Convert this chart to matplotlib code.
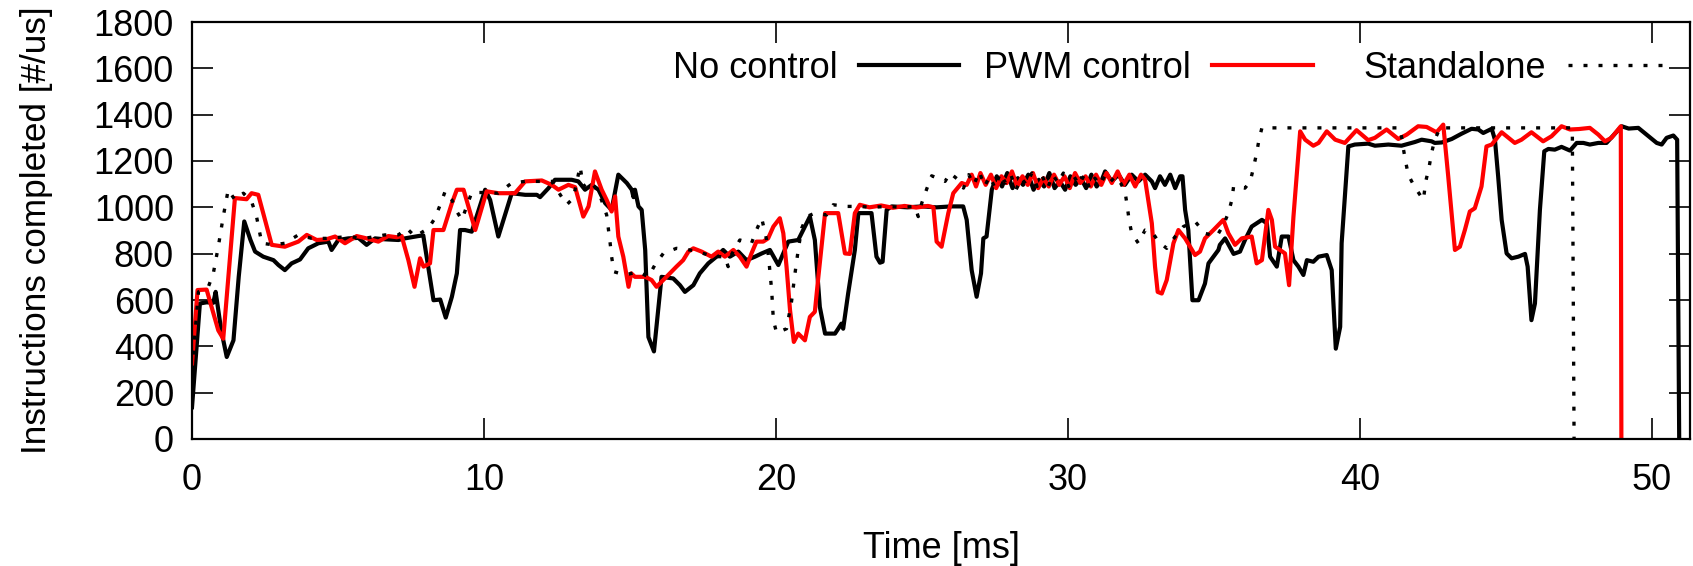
import matplotlib
matplotlib.use("Agg")
import matplotlib.pyplot as plt
import numpy as np

plt.rcParams['font.family'] = ['Liberation Sans', 'DejaVu Sans']

# No control (black solid)
noctl_t = [0.0, 0.27, 0.5, 0.73, 0.81, 1.0, 1.19, 1.42, 1.6, 1.79, 2.0, 2.16, 2.44, 2.79, 2.96, 3.18,
           3.41, 3.7, 3.98, 4.33, 4.67, 4.78, 5.01, 5.35, 5.7, 5.98, 6.27, 6.61, 7.07, 7.29, 7.75, 7.92,
           8.27, 8.5, 8.69, 8.9, 9.07, 9.18, 9.35, 9.58, 10.04, 10.21, 10.49, 10.95, 11.41, 11.81, 11.92,
           12.21, 12.43, 13.0, 13.23, 13.46, 13.69, 13.92, 14.15, 14.37, 14.6, 14.89, 15.06, 15.12, 15.17,
           15.29, 15.4, 15.52, 15.63, 15.82, 16.08, 16.48, 16.71, 16.88, 17.17, 17.39, 17.68, 17.96, 18.19,
           18.42, 18.71, 18.99, 19.28, 19.51, 19.79, 20.08, 20.42, 20.76, 21.16, 21.33, 21.5, 21.68, 22.02,
           22.13, 22.24, 22.3, 22.47, 22.7, 22.82, 23.27, 23.44, 23.56, 23.65, 23.79, 23.96, 24.5, 25.0,
           25.5, 26.0, 26.41, 26.53, 26.7, 26.87, 27.02, 27.1, 27.21, 27.39, 27.56, 27.74, 27.92, 28.1,
           28.28, 28.46, 28.64, 28.82, 29.0, 29.18, 29.36, 29.54, 29.72, 29.9, 30.08, 30.26, 30.44, 30.62,
           30.8, 30.98, 31.16, 31.27, 31.5, 31.73, 31.95, 32.18, 32.41, 32.64, 32.87, 32.98, 33.15, 33.32,
           33.5, 33.67, 33.84, 33.92, 34.01, 34.12, 34.26, 34.47, 34.69, 34.81, 34.98, 35.15, 35.2, 35.38,
           35.67, 35.89, 36.06, 36.29, 36.64, 36.81, 36.92, 37.15, 37.32, 37.55, 37.72, 37.89, 38.06, 38.18,
           38.4, 38.58, 38.86, 39.03, 39.17, 39.32, 39.37, 39.6, 39.82, 40.28, 40.51, 40.97, 41.42, 41.88,
           42.11, 42.45, 42.56, 42.8, 43.14, 43.48, 43.82, 44.05, 44.22, 44.51, 44.62, 44.73, 44.85, 45.02,
           45.19, 45.42, 45.65, 45.74, 45.87, 45.99, 46.16, 46.31, 46.45, 46.67, 46.9, 47.19, 47.42, 47.65,
           47.87, 48.16, 48.44, 48.96, 49.2, 49.53, 49.81, 50.16, 50.33, 50.5, 50.73, 50.86, 50.93]
noctl_v = [137, 585, 590, 588, 635, 470, 354, 426, 700, 939, 860, 809, 787, 772, 751, 729,
           758, 775, 823, 845, 852, 816, 859, 866, 868, 838, 866, 862, 859, 866, 876, 879,
           599, 602, 524, 614, 715, 902, 902, 895, 1076, 1032, 874, 1061, 1054, 1054, 1044,
           1083, 1119, 1119, 1112, 1076, 1097, 1076, 1018, 989, 1141, 1105, 1076, 1044, 1076,
           1004, 989, 816, 440, 378, 700, 693, 664, 635, 664, 715, 758, 787, 816,
           787, 809, 772, 787, 801, 816, 751, 852, 859, 960, 859, 570, 455, 455,
           476, 498, 476, 628, 816, 975, 975, 787, 761, 765, 989, 1004, 1000, 1004,
           1000, 1004, 1004, 946, 729, 614, 715, 866, 874, 1076, 1134, 1090, 1148, 1083,
           1126, 1097, 1141, 1076, 1119, 1090, 1148, 1083, 1112, 1076, 1134, 1097, 1126, 1083,
           1141, 1090, 1119, 1155, 1112, 1141, 1097, 1141, 1112, 1141, 1112, 1083, 1134, 1097,
           1141, 1083, 1134, 1134, 989, 902, 599, 599, 671, 758, 787, 816, 838, 866,
           799, 809, 859, 917, 946, 931, 787, 744, 874, 874, 772, 744, 708, 772,
           765, 787, 794, 729, 390, 484, 845, 1263, 1271, 1275, 1266, 1271, 1266, 1282,
           1292, 1285, 1278, 1280, 1295, 1318, 1339, 1336, 1321, 1339, 1292, 1134, 946, 801,
           780, 787, 799, 744, 513, 585, 989, 1242, 1252, 1249, 1261, 1245, 1278, 1278,
           1271, 1278, 1278, 1350, 1340, 1343, 1314, 1278, 1271, 1300, 1310, 1292, 0]

# PWM control (red solid)
pwm_t = [0.0, 0.19, 0.5, 0.9, 1.07, 1.47, 1.87, 2.04, 2.27, 2.73, 3.18, 3.64, 3.93, 4.27, 4.6, 4.9,
         5.24, 5.64, 5.98, 6.38, 6.72, 7.01, 7.18, 7.41, 7.62, 7.81, 7.93, 8.15, 8.27, 8.61, 8.9, 9.07,
         9.3, 9.7, 10.09, 10.49, 11.06, 11.41, 11.98, 12.32, 12.55, 12.89, 13.12, 13.4, 13.58, 13.8,
         14.03, 14.2, 14.37, 14.49, 14.6, 14.77, 14.95, 15.04, 15.17, 15.52, 15.74, 15.91, 16.08, 16.31,
         16.59, 16.82, 17.0, 17.17, 17.45, 17.79, 18.02, 18.25, 18.54, 18.76, 18.99, 19.16, 19.33, 19.56,
         19.73, 19.91, 20.13, 20.25, 20.36, 20.48, 20.61, 20.76, 20.99, 21.16, 21.33, 21.45, 21.68, 22.13,
         22.36, 22.53, 22.7, 22.87, 23.2, 23.6, 24.0, 24.4, 24.8, 25.2, 25.39, 25.5, 25.67, 25.9, 26.07,
         26.36, 26.53, 26.7, 26.85, 27.0, 27.18, 27.36, 27.54, 27.72, 27.9, 28.08, 28.26, 28.44, 28.62,
         28.8, 28.98, 29.16, 29.34, 29.52, 29.7, 29.88, 30.06, 30.24, 30.42, 30.6, 30.78, 30.96, 31.14,
         31.32, 31.5, 31.7, 31.9, 32.1, 32.3, 32.5, 32.64, 32.87, 32.98, 33.07, 33.21, 33.38, 33.61,
         33.78, 34.01, 34.35, 34.52, 34.69, 34.98, 35.32, 35.49, 35.72, 35.95, 36.29, 36.46, 36.64, 36.86,
         36.98, 37.09, 37.26, 37.43, 37.57, 37.72, 37.95, 38.12, 38.4, 38.58, 38.86, 39.15, 39.48, 39.88,
         40.28, 40.51, 40.91, 41.31, 41.6, 41.99, 42.28, 42.62, 42.85, 43.02, 43.25, 43.42, 43.59, 43.76,
         43.93, 44.16, 44.33, 44.51, 44.85, 45.3, 45.53, 45.87, 46.27, 46.56, 46.9, 47.19, 47.5, 47.87,
         48.16, 48.39, 48.61, 48.93, 48.95]
pwm_v = [325, 643, 645, 469, 433, 1040, 1035, 1061, 1054, 838, 830, 852, 881, 859, 862, 874,
         845, 876, 866, 852, 876, 871, 876, 772, 657, 780, 744, 758, 902, 902, 1018, 1076,
         1076, 902, 1069, 1061, 1061, 1112, 1116, 1097, 1076, 1097, 1087, 960, 1004, 1155,
         1076, 1032, 982, 1047, 874, 787, 657, 715, 700, 700, 686, 657, 679, 708,
         744, 772, 809, 823, 809, 787, 809, 787, 816, 787, 744, 801, 852, 852,
         866, 917, 953, 888, 744, 556, 419, 455, 426, 527, 549, 700, 975, 975,
         801, 799, 975, 1011, 1000, 1008, 998, 1006, 999, 1006, 1000, 852, 830, 975, 1061,
         1105, 1097, 1141, 1090, 1148, 1097, 1141, 1083, 1134, 1105, 1155, 1090, 1134, 1097,
         1148, 1083, 1126, 1090, 1141, 1097, 1134, 1083, 1148, 1105, 1134, 1090, 1141, 1097,
         1148, 1105, 1155, 1097, 1141, 1090, 1141, 1119, 931, 744, 635, 628, 686, 845,
         902, 866, 794, 809, 866, 902, 946, 888, 838, 866, 874, 758, 772, 989,
         946, 830, 816, 801, 664, 960, 1328, 1292, 1266, 1278, 1328, 1292, 1278, 1333,
         1290, 1300, 1336, 1295, 1314, 1350, 1347, 1324, 1357, 1134, 816, 830, 902, 982,
         996, 1090, 1263, 1271, 1324, 1278, 1292, 1324, 1285, 1307, 1350, 1336, 1338, 1343,
         1314, 1285, 1300, 1350, 0]

# Standalone (black dotted)
alone_t = [0.0, 0.22, 0.56, 0.73, 0.9, 1.07, 1.24, 1.47, 1.76, 2.04, 2.21, 2.39, 2.79, 3.18, 3.64, 4.1,
           4.6, 5.0, 5.35, 5.9, 6.61, 7.07, 7.35, 7.64, 8.1, 8.32, 8.5, 8.67, 8.9, 9.07, 9.24, 9.58,
           9.92, 10.49, 10.95, 11.41, 11.86, 12.32, 12.83, 13.06, 13.29, 13.4, 13.63, 13.92, 14.2, 14.32,
           14.37, 14.45, 14.83, 15.29, 15.63, 15.85, 16.14, 16.59, 17.05, 17.51, 17.91, 18.25, 18.36, 18.45,
           18.76, 19.16, 19.33, 19.51, 19.68, 19.76, 19.85, 19.91, 20.02, 20.36, 20.53, 20.65, 20.76, 20.88,
           21.05, 21.33, 21.73, 21.96, 22.42, 22.82, 23.3, 23.8, 24.3, 24.76, 24.87, 24.99, 25.16, 25.33,
           25.62, 25.79, 25.96, 26.24, 26.42, 26.6, 26.78, 26.96, 27.14, 27.32, 27.5, 27.68, 27.86, 28.04,
           28.22, 28.4, 28.58, 28.76, 28.94, 29.12, 29.3, 29.48, 29.66, 29.84, 30.02, 30.2, 30.38, 30.56,
           30.74, 30.92, 31.1, 31.28, 31.46, 31.64, 31.8, 31.95, 32.03, 32.09, 32.18, 32.41, 32.64, 32.87,
           33.1, 33.38, 33.67, 33.95, 34.35, 34.69, 35.09, 35.32, 35.49, 35.61, 35.67, 36.06, 36.24, 36.35,
           36.46, 36.54, 36.64, 41.37, 41.42, 41.48, 41.56, 41.65, 41.86, 42.17, 42.25, 42.36, 42.45, 42.56,
           42.74, 47.27, 47.33]
alone_v = [300, 635, 657, 715, 830, 960, 1076, 1032, 1061, 1025, 960, 845, 838, 845, 881, 866,
           866, 870, 874, 866, 881, 881, 910, 874, 910, 953, 1011, 1069, 1032, 982, 946, 1064,
           1064, 1061, 1105, 1112, 1112, 1112, 1011, 1040, 1177, 1090, 1112, 1069, 967, 845,
           787, 722, 708, 722, 700, 751, 801, 823, 816, 801, 787, 787, 744, 790,
           859, 845, 902, 953, 859, 765, 643, 513, 458, 476, 592, 715, 816, 910,
           960, 975, 967, 1011, 1004, 1004, 1000, 1004, 1000, 1004, 960, 1018, 1079, 1136,
           1122, 1112, 1148, 1119, 1083, 1141, 1097, 1155, 1090, 1134, 1083, 1148, 1105, 1141,
           1076, 1126, 1097, 1148, 1090, 1134, 1083, 1141, 1105, 1148, 1090, 1134, 1097, 1141,
           1083, 1126, 1097, 1141, 1112, 1134, 1105, 1069, 1004, 946, 888, 845, 902, 895,
           852, 823, 874, 917, 939, 888, 874, 924, 975, 1032, 1090, 1083, 1112, 1170,
           1235, 1292, 1343, 1343, 1307, 1256, 1199, 1141, 1090, 1032, 1112, 1170, 1235, 1292,
           1343, 1343, 0]

fig = plt.figure(figsize=(16.93, 5.66), dpi=100)
ax = fig.add_axes([192 / 1693, 1 - 439 / 566, (1690 - 192) / 1693, (439 - 22) / 566])

l1, = ax.plot(noctl_t, noctl_v, color='black', linewidth=3.0, label='No control')
l2, = ax.plot(pwm_t, pwm_v, color='#ff0000', linewidth=3.0, label='PWM control')
l3, = ax.plot(alone_t, alone_v, color='black', linewidth=2.4, linestyle=(0, (1.2, 3.3)),
              label='Standalone')

ax.set_xlim(0, 51.3)
ax.set_ylim(0, 1800)
ax.set_xticks(np.arange(0, 51, 10))
ax.set_yticks(np.arange(0, 1801, 200))
ax.tick_params(direction='in', length=15, width=1.2, top=True, right=True,
               labelsize=26)
ax.tick_params(axis='x', pad=17)
ax.tick_params(axis='y', pad=13)
for s in ax.spines.values():
    s.set_linewidth(1.6)

ax.set_xlabel('Time [ms]', fontsize=26, labelpad=24)
ax.set_ylabel('Instructions completed [#/us]', fontsize=25.3, labelpad=29)

# gnuplot-style key: text right-justified before each sample, one slot per entry
slot_right = [0.512, 0.748, 0.985]
for i, h in enumerate([l1, l2, l3]):
    leg = ax.legend([h], [h.get_label()], loc='center right',
                    bbox_to_anchor=(slot_right[i], 0.889), frameon=False,
                    markerfirst=False, fontsize=26, handlelength=2.77,
                    handletextpad=0.6, borderaxespad=0, borderpad=0)
    if i < 2:
        ax.add_artist(leg)

fig.savefig('out.png', dpi=100)
